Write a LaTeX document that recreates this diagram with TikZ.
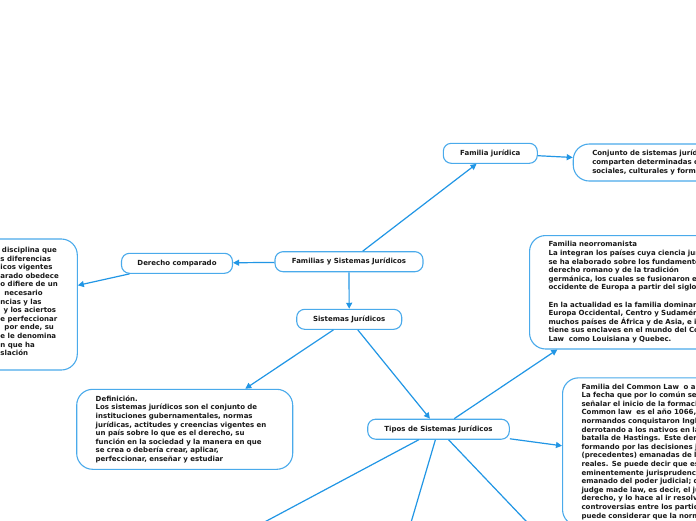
\documentclass[tikz,border=0pt]{standalone}
\usepackage{fontspec}
\setmainfont{DejaVu Sans}
\usetikzlibrary{arrows.meta,calc}
\definecolor{linec}{RGB}{33,150,229}
\definecolor{boxc}{RGB}{74,170,235}
\definecolor{txtc}{RGB}{25,25,25}
\newcommand\mmtxt{\fontsize{7pt}{8.6pt}\selectfont\bfseries}
\newcommand\mbx[1]{\mbox{#1}}
\tikzset{
  topic/.style={draw=boxc, line width=1.1pt, rounded corners=8pt, fill=white,
    minimum height=20pt, inner sep=0pt, font=\mmtxt, text=txtc},
  bigbox/.style={draw=boxc, line width=1.1pt, rounded corners=16pt, fill=white,
    align=left, font=\mmtxt, text=txtc, inner xsep=19pt, inner ysep=6pt},
  plaintxt/.style={align=left, font=\mmtxt, text=txtc, inner sep=0pt},
  link/.style={draw=linec, line width=1.2pt},
  arr/.style={link, -{Triangle[length=6pt,width=6pt]}}
}
\begin{document}
\begin{tikzpicture}[x=1pt,y=-1pt]
\fill[white] (0,0) rectangle (696,520);
\useasboundingbox (0,0) rectangle (696,520);

% topics
\node[topic, minimum width=148pt] (fam) at (349,261.7) {Familias y Sistemas Jurídicos};
\node[topic, minimum width=111pt] (der) at (177,263.3) {Derecho comparado};
\node[topic, minimum width=94pt] (famj) at (490.3,153.3) {Familia jurídica};
\node[topic, minimum width=105pt] (sis) at (349.2,319.3) {Sistemas Jurídicos};
\node[topic, minimum width=141.6pt] (tip) at (438.5,429.2) {Tipos de Sistemas Jurídicos};

% left box (clipped at the page edge)
\node[bigbox, minimum width=172pt, minimum height=131pt] (izq) at (-8.7,304.5) {};
\node[plaintxt, anchor=north west] (izqtxt) at (0.3,247) {%
\hspace*{1.5pt}disciplina que\\
s diferencias\\
icos vigentes\\
arado obedece\\
o difiere de un\\
\hspace*{4pt}necesario\\
ncias y las\\
\hspace*{3pt}y los aciertos\\
e perfeccionar\\
\hspace*{4pt}por ende, su\\
e le denomina\\
n que ha\\
slación};

% definition box
\node[bigbox, text width=178pt, minimum height=80pt] (def) at (184.7,429.3) {%
\mbx{Definición.}\\
\mbx{Los sistemas jurídicos son el conjunto de}\\
\mbx{instituciones gubernamentales, normas}\\
\mbx{jurídicas, actitudes y creencias vigentes en}\\
\mbx{un país sobre lo que es el derecho, su}\\
\mbx{función en la sociedad y la manera en que}\\
\mbx{se crea o debería crear, aplicar,}\\
\mbx{perfeccionar, enseñar y estudiar}};

% familia juridica box
\node[bigbox, text width=160pt, minimum height=37pt, anchor=west] (conj) at (572.7,162.5) {%
\mbx{Conjunto de sistemas jurídicos que}\\
\mbx{comparten determinadas características}\\
\mbx{sociales, culturales y formales.}};

% neorromanista box
\node[bigbox, text width=188pt, minimum height=113.3pt, anchor=north west] (neo) at (529,235) {%
\mbx{Familia neorromanista}\\
\mbx{La integran los países cuya ciencia jurídica}\\
\mbx{se ha elaborado sobre los fundamentos del}\\
\mbx{derecho romano y de la tradición}\\
\mbx{germánica, los cuales se fusionaron en el}\\
\mbx{occidente de Europa a partir del siglo XII.}\\[8.6pt]
\mbx{En la actualidad es la familia dominante en}\\
\mbx{Europa Occidental, Centro y Sudamérica,}\\
\mbx{muchos países de África y de Asia, e incluso}\\
\mbx{tiene sus enclaves en el mundo del Common}\\
\mbx{Law\ \ como Louisiana y Quebec.}};

% common law box
\node[bigbox, text width=188pt, anchor=north west] (cl) at (562,377.3) {%
\mbx{Familia del Common Law\ \ o anglosajona}\\
\mbx{La fecha que por lo común se suele}\\
\mbx{señalar el inicio de la formación del}\\
\mbx{Common law\ \ es el año 1066, cuando los}\\
\mbx{normandos conquistaron Inglaterra}\\
\mbx{derrotando a los nativos en la}\\
\mbx{batalla de Hastings. Este derecho se fue}\\
\mbx{formando por las decisiones judiciales}\\
\mbx{(precedentes) emanadas de los tribunales}\\
\mbx{reales. Se puede decir que es un derecho}\\
\mbx{eminentemente jurisprudencial,}\\
\mbx{emanado del poder judicial; de ahí que sea}\\
\mbx{judge made law, es decir, el juez crea el}\\
\mbx{derecho, y lo hace al ir resolviendo las}\\
\mbx{controversias entre los particulares. Se}\\
\mbx{puede considerar que la norma}};

% connectors
\draw[arr] (fam) -- (famj);
\draw[arr] (famj) -- (conj);
\draw[arr] (fam) -- (der);
\draw[arr] (der) -- (izq);
\draw[arr] (fam) -- (sis);
\draw[arr] (sis) -- (def);
\draw[arr] (sis) -- (tip);
\draw[arr] (tip) -- (neo);
\coordinate (clin) at ($(cl.north west)+(0,68.5)$);
\draw[arr] (tip) -- (clin);
\coordinate (b1) at (249.6,530);
\coordinate (b2) at (408.8,530);
\coordinate (b3) at (534.5,530);
\draw[link] (tip) -- (b1);
\draw[link] (tip) -- (b2);
\draw[link] (tip) -- (b3);
\end{tikzpicture}
\end{document}
